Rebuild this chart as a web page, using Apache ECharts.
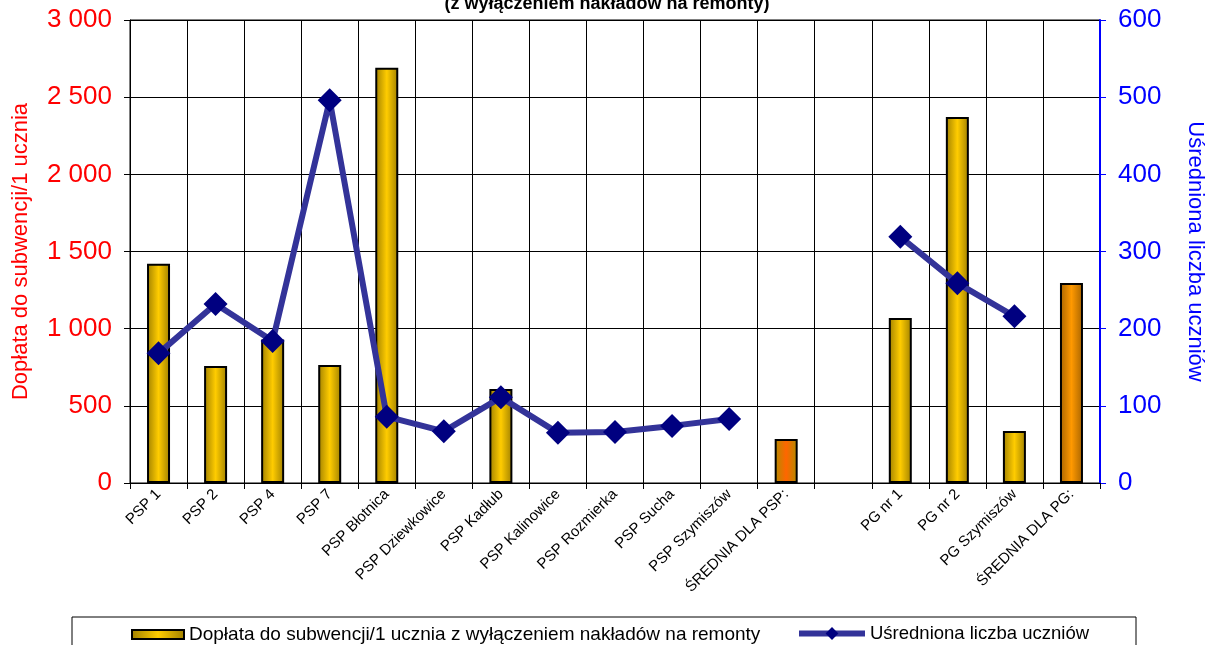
<!DOCTYPE html>
<html><head><meta charset="utf-8">
<script src="https://cdn.jsdelivr.net/npm/echarts@6/dist/echarts.min.js"></script>
<style>html,body{margin:0;padding:0;background:#fff}#c{width:1214px;height:645px}</style>
</head><body><div id="c"></div>
<script>
const categories = ['PSP 1','PSP 2','PSP 4','PSP 7','PSP Błotnica','PSP Dziewkowice','PSP Kadłub','PSP Kalinowice','PSP Rozmierka','PSP Sucha','PSP Szymiszów','ŚREDNIA DLA PSP:','','PG nr 1','PG nr 2','PG Szymiszów','ŚREDNIA DLA PG:'];
const doplata = [1420, 758, 930, 765, 2690, null, 609, null, null, null, null, 285, null, 1069, 2372, 337, 1296];
const uczniowie = [168, 232, 184, 496, 86, 67, 111, 65, 66, 74, 83, null, null, 319, 259, 216, null];
const leftTicks = [0, 500, 1000, 1500, 2000, 2500, 3000];
const rightTicks = [0, 100, 200, 300, 400, 500, 600];

const FONT = 'Liberation Sans, Arial, sans-serif';
function grad(edge, mid){
  return new echarts.graphic.LinearGradient(0,0,1,0,[{offset:0,color:edge},{offset:0.5,color:mid},{offset:1,color:edge}]);
}
const gold = grad('#A08000','#FFCC00');
const avgPSP = grad('#B08C00','#FF6600');
const avgPG = grad('#A86400','#FF9900');
const barData = doplata.map((v,i)=>{
  let c = gold;
  if (categories[i]==='ŚREDNIA DLA PSP:') c = avgPSP;
  if (categories[i]==='ŚREDNIA DLA PG:') c = avgPG;
  return {value:v, itemStyle:{color:c}};
});
const chart = echarts.init(document.getElementById('c'));
chart.setOption({
  animation:false,
  textStyle:{fontFamily:FONT},
  grid:{left:130,right:114,top:20,bottom:162,show:true,borderColor:'#000',borderWidth:1,containLabel:false,outerBoundsMode:'none'},
  graphic:[
    {type:'text',left:'center',top:-5,style:{text:'(z wyłączeniem nakładów na remonty)',font:'bold 18px '+FONT,fill:'#000'}},
    {type:'rect',shape:{x:72,y:617,width:1064,height:40},style:{fill:'none',stroke:'#000',lineWidth:1}}
  ],
  legend:[
    {data:[{name:'Dopłata do subwencji/1 ucznia z wyłączeniem nakładów na remonty',icon:'rect'}],left:126,top:620,itemWidth:52,itemHeight:9,itemGap:6,
     textStyle:{fontSize:19,fontFamily:FONT,color:'#000'}},
    {data:['Uśredniona liczba uczniów'],left:791,top:619,itemWidth:66,itemHeight:16,
     lineStyle:{width:6,color:'#333399'},itemStyle:{color:'#000080'},
     textStyle:{fontSize:18.5,fontFamily:FONT,color:'#000'}}
  ],
  xAxis:{type:'category',data:categories,boundaryGap:true,
    axisLine:{lineStyle:{color:'#000',width:1}},
    axisTick:{show:true,alignWithLabel:false,length:6,lineStyle:{color:'#000'}},
    splitLine:{show:true,lineStyle:{color:'#000',width:1}},
    axisLabel:{rotate:45,interval:0,fontSize:15,color:'#000',fontFamily:FONT,margin:9}
  },
  yAxis:[
    {type:'value',min:0,max:3000,interval:500,position:'left',
     name:'Dopłata do subwencji/1 ucznia',nameLocation:'middle',nameGap:98,nameRotate:90,
     nameTextStyle:{color:'#FF0000',fontSize:22,fontFamily:FONT},
     axisLine:{show:true,lineStyle:{color:'#000'}},axisTick:{show:true,length:6,lineStyle:{color:'#000'}},
     splitLine:{show:true,lineStyle:{color:'#000',width:1}},
     axisLabel:{color:'#FF0000',fontSize:26,fontFamily:FONT,margin:18,formatter:v=>String(v).replace(/\B(?=(\d{3})+(?!\d))/g,' ')}},
    {type:'value',min:0,max:600,interval:100,position:'right',
     name:'Uśredniona liczba uczniów',nameLocation:'middle',nameGap:84,nameRotate:-90,
     nameTextStyle:{color:'#0000FF',fontSize:22,fontFamily:FONT},
     axisLine:{show:true,lineStyle:{color:'#0000FF',width:2}},axisTick:{show:true,length:6,lineStyle:{color:'#0000FF'}},
     splitLine:{show:false},
     axisLabel:{color:'#0000FF',fontSize:26,fontFamily:FONT,margin:18}}
  ],
  series:[
    {name:'Dopłata do subwencji/1 ucznia z wyłączeniem nakładów na remonty',type:'bar',yAxisIndex:0,barWidth:23,
     data:barData,itemStyle:{color:gold,borderColor:'#000',borderWidth:2}},
    {name:'Uśredniona liczba uczniów',type:'line',yAxisIndex:1,data:uczniowie,connectNulls:false,
     symbol:'diamond',symbolSize:24,lineStyle:{color:'#333399',width:6},itemStyle:{color:'#000080'}}
  ]
});
</script></body></html>
